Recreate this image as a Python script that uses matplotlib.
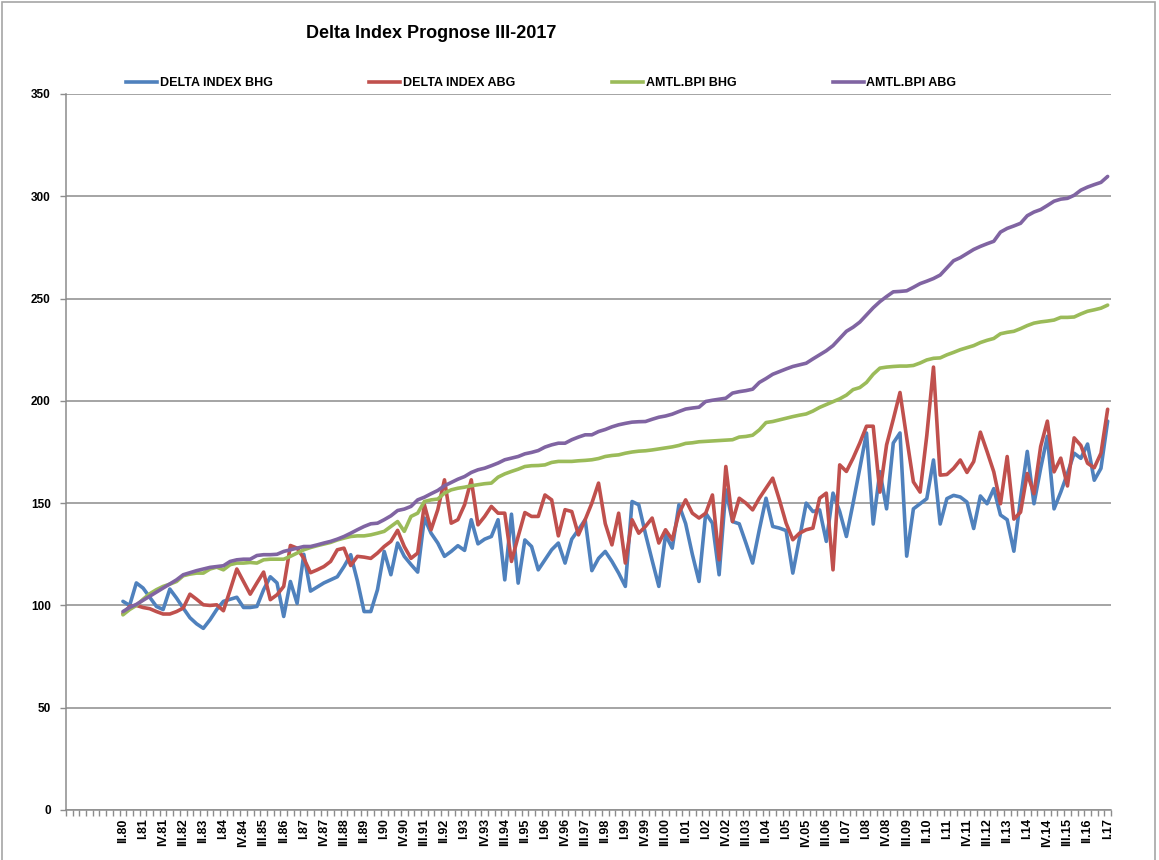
import numpy as np
import matplotlib
matplotlib.use("Agg")
import matplotlib.pyplot as plt
from matplotlib.lines import Line2D
from matplotlib.patches import Rectangle

# ============================================================
# DATA (quarterly, II.80 .. I.17)
# ============================================================

TITLE = "Delta Index Prognose III-2017"

SERIES_NAMES = ["DELTA INDEX BHG", "DELTA INDEX ABG", "AMTL.BPI BHG", "AMTL.BPI ABG"]
SERIES_COLORS = ["#4F81BD", "#C0504D", "#9BBB59", "#8064A2"]

DELTA_BHG = [
    102, 100, 111, 108.5, 104, 99.5, 98, 108, 103.6, 98.7,
    94, 91, 88.8, 93, 98, 102, 103, 104, 99, 99,
    99.5, 107.7, 114, 111, 94.6, 111.7, 101, 125, 107, 109,
    111, 112.5, 114, 119, 124.8, 112, 97, 97, 107.7, 126.4,
    115, 130.5, 124, 120, 116.3, 142.7, 135.3, 130.5, 124, 126.4,
    129.2, 126.9, 141.9, 130.1, 132.4, 133.7, 141.9, 112.5, 144.6, 110.9,
    132, 128.8, 117.4, 122.3, 127.2, 130.5, 120.7, 132.4, 137, 141.9,
    117, 123, 126.4, 121.5, 115.8, 109.3, 150.8, 149.2, 135, 122,
    109.3, 134.5, 128, 149.2, 140, 125, 111.7, 145.1, 140.2, 115,
    156.5, 141, 139.9, 130.5, 120.7, 137, 152.4, 138.6, 137.8, 136.6,
    115.8, 132.9, 150, 145.9, 146.7, 131.3, 154.9, 145.9, 133.7, 150,
    167, 184.3, 139.8, 165.4, 147.2, 179.4, 184.3, 124.1, 147.2, 149.7,
    152.2, 171.1, 139.8, 152.2, 153.8, 153, 150.5, 137.6, 153.5, 149.7,
    157.1, 144.2, 141.9, 126.5, 152.2, 175.3, 149.7, 167, 182.7, 147.2,
    155.4, 164.5, 174.4, 171.9, 178.9, 161.2, 167, 190.1,
]

DELTA_ABG = [
    96, 99.5, 100, 99, 98.4, 97, 95.8, 95.8, 97, 98.7,
    105.5, 103, 100.3, 100, 100.3, 97.4, 107.5, 117.8, 111.7, 105.5,
    111, 116.3, 102.8, 105.2, 109.3, 129.3, 128, 123, 116, 117.4,
    119, 121.5, 127.2, 128, 119.5, 124, 123.6, 123, 125.6, 128.8,
    131.3, 136.7, 128.8, 123, 125.6, 149.2, 137, 146.8, 161.4, 140.2,
    141.9, 149.2, 161.4, 139.4, 143.5, 148.4, 145.1, 145.1, 121.5, 133.7,
    145.4, 143.5, 143.5, 154, 151.6, 134, 146.8, 145.9, 134.5, 141.9,
    150, 159.8, 140, 129.6, 145.1, 120.7, 141.9, 135.3, 138.6, 142.7,
    130.5, 137, 132.1, 145.1, 151.6, 145.1, 142.7, 145.1, 154, 122.3,
    167.9, 141, 152.4, 150, 146.7, 152.4, 157.3, 162.2, 151.6, 140.2,
    132.1, 135.3, 137, 137.8, 152.4, 154.9, 117.4, 168.7, 165.5, 172,
    179.4, 187.6, 187.6, 155.4, 178.5, 191, 204.1, 181.9, 160.4, 155.4,
    183, 216.5, 163.7, 164, 167, 171.1, 165, 170.3, 184.7, 175.2,
    165.3, 149.7, 172.8, 142.2, 145.6, 164.5, 154.6, 177.7, 190.1, 165.3,
    172, 158.4, 181.9, 178.2, 169.5, 167.3, 174.4, 195.9,
]

BPI_BHG = [
    95.4, 98, 100, 103, 105.7, 107.7, 109.3, 110.4, 111.7, 114.5,
    115.3, 115.8, 115.8, 117.8, 118.7, 117.4, 119.9, 120.7, 120.7, 121,
    120.7, 122.3, 122.6, 122.6, 122.6, 124, 125.6, 127.2, 128.3, 129.2,
    130, 130.8, 132, 132.9, 133.7, 134, 134, 134.5, 135.3, 136.2,
    138.6, 141, 136.2, 143.5, 145.1, 150.8, 151.6, 152, 154.9, 156.5,
    157.3, 157.8, 158.5, 159, 159.5, 159.8, 162.7, 164.3, 165.5, 166.6,
    167.9, 168.3, 168.4, 168.7, 169.9, 170.4, 170.4, 170.4, 170.7, 170.9,
    171.2, 171.8, 172.8, 173.3, 173.6, 174.4, 175, 175.4, 175.6, 176,
    176.5, 177, 177.5, 178.2, 179.2, 179.5, 180, 180.2, 180.4, 180.6,
    180.8, 181, 182.3, 182.6, 183.2, 185.8, 189.4, 189.9, 190.7, 191.5,
    192.3, 193, 193.6, 195, 196.8, 198.2, 199.6, 201, 202.8, 205.5,
    206.5, 209, 213, 216, 216.5, 216.8, 217, 217, 217.3, 218.5,
    220, 220.8, 221, 222.5, 223.7, 225, 226, 227, 228.5, 229.6,
    230.5, 232.8, 233.5, 234, 235.3, 236.8, 238, 238.6, 239, 239.5,
    240.8, 240.8, 241, 242.5, 243.8, 244.5, 245.3, 246.8,
]

BPI_ABG = [
    97, 99, 100.5, 102.5, 104.5, 106.5, 108.5, 110.5, 112.5, 115,
    116, 117, 117.8, 118.6, 119, 119.4, 121.5, 122.3, 122.6, 122.6,
    124.4, 124.8, 124.8, 125, 126.4, 127.2, 128, 128.8, 128.8, 129.6,
    130.5, 131.3, 132.4, 133.7, 135.3, 137, 138.6, 139.9, 140.2, 141.9,
    143.8, 146.4, 147.1, 148.4, 151.6, 152.9, 154.6, 156.2, 158.5, 160.1,
    161.7, 163, 165, 166.3, 167.1, 168.3, 169.6, 171.2, 172, 172.8,
    174.1, 174.8, 175.7, 177.4, 178.5, 179.3, 179.3, 181, 182.3, 183.4,
    183.4, 185, 186, 187.3, 188.3, 189, 189.6, 189.8, 189.9, 191,
    192, 192.6, 193.5, 194.8, 196, 196.5, 196.9, 199.7, 200.3, 200.8,
    201.3, 203.8, 204.5, 205, 205.7, 209, 210.9, 213, 214.3, 215.6,
    216.8, 217.6, 218.4, 220.5, 222.5, 224.5, 227, 230.5, 234, 236,
    238.5, 242, 245.5, 248.5, 251, 253.3, 253.5, 253.8, 255.5, 257.3,
    258.5, 259.8, 261.5, 265, 268.5, 270, 272, 274, 275.5, 276.8,
    278, 282.5, 284.3, 285.5, 286.8, 290.5, 292.3, 293.5, 295.5, 297.6,
    298.6, 299, 300.5, 303, 304.5, 305.7, 306.8, 309.7,
]

# every third quarter is labelled, starting with the first data point
TICK_LABELS = [
    "II.80", "I.81", "IV.81", "III.82", "II.83", "I.84", "IV.84", "III.85",
    "II.86", "I.87", "IV.87", "III.88", "II.89", "I.90", "IV.90", "III.91",
    "II.92", "I.93", "IV.93", "III.94", "II.95", "I.96", "IV.96", "III.97",
    "II.98", "I.99", "IV.99", "III.00", "II.01", "I.02", "IV.02", "III.03",
    "II.04", "I.05", "IV.05", "III.06", "II.07", "I.08", "IV.08", "III.09",
    "II.10", "I.11", "IV.11", "III.12", "II.13", "I.14", "IV.14", "III.15",
    "II.16", "I.17",
]
LABEL_STEP = 3
N_EMPTY = 8          # empty categories before the first data point

Y_TICKS = [0, 50, 100, 150, 200, 250, 300, 350]


# ============================================================
# PLOT
# ============================================================

def main():
    plt.rcParams["font.family"] = ["Liberation Sans", "DejaVu Sans"]
    W, H = 1159, 860
    fig = plt.figure(figsize=(W / 100, H / 100), dpi=100)
    fig.patch.set_facecolor("white")

    ax = fig.add_axes([66 / W, 50 / H, 1045 / W, 716 / H])

    series = [DELTA_BHG, DELTA_ABG, BPI_BHG, BPI_ABG]
    x = np.arange(len(DELTA_BHG))
    for vals, name, col in zip(series, SERIES_NAMES, SERIES_COLORS):
        ax.plot(x, vals, color=col, lw=2.6, label=name,
                solid_joinstyle="round", solid_capstyle="round", zorder=3)

    grid_col = "#8c8c8c"
    ax.set_xlim(-N_EMPTY - 0.5, len(x) - 0.5)
    ax.set_ylim(0, 350)
    ax.set_yticks(Y_TICKS)
    ax.yaxis.grid(True, color=grid_col, lw=1.1)
    ax.set_axisbelow(True)

    for s in ["top", "right"]:
        ax.spines[s].set_visible(False)
    for s in ["left", "bottom"]:
        ax.spines[s].set_color(grid_col)
        ax.spines[s].set_linewidth(1.1)

    # category labels on every third point, tick marks between categories
    ax.set_xticks(x[::LABEL_STEP])
    ax.set_xticklabels(TICK_LABELS, rotation=90, fontsize=9, fontweight="bold")
    ax.set_xticks(np.arange(-N_EMPTY - 0.5, len(x), 1), minor=True)
    ax.tick_params(axis="x", which="major", length=0, pad=6)
    ax.tick_params(axis="x", which="minor", length=4, color=grid_col, width=1)
    ax.tick_params(axis="y", length=4, color=grid_col, width=1,
                   labelsize=8.5, pad=7)
    for t in ax.get_yticklabels():
        t.set_fontweight("bold")

    fig.text(431 / W, 1 - 33 / H, TITLE, ha="center", va="center",
             fontsize=13, fontweight="bold")

    handles = [Line2D([], [], color=c, lw=2.6) for c in SERIES_COLORS]
    fig.legend(handles, SERIES_NAMES, loc="center left",
               bbox_to_anchor=(126 / W, 1 - 83 / H), ncol=4, frameon=False,
               handlelength=2.48, handletextpad=0.24,
               columnspacing=7.7, borderpad=0, borderaxespad=0,
               prop={"weight": "bold", "size": 9})

    # chart-area border
    fig.patches.append(Rectangle((2 / W, -0.02), 1153 / W, 1.0 - 2 / H + 0.02,
                                 transform=fig.transFigure, fill=False,
                                 edgecolor="#a6a6a6", lw=1.2))

    fig.savefig("out.png", dpi=100)
    plt.close(fig)


if __name__ == "__main__":
    main()
